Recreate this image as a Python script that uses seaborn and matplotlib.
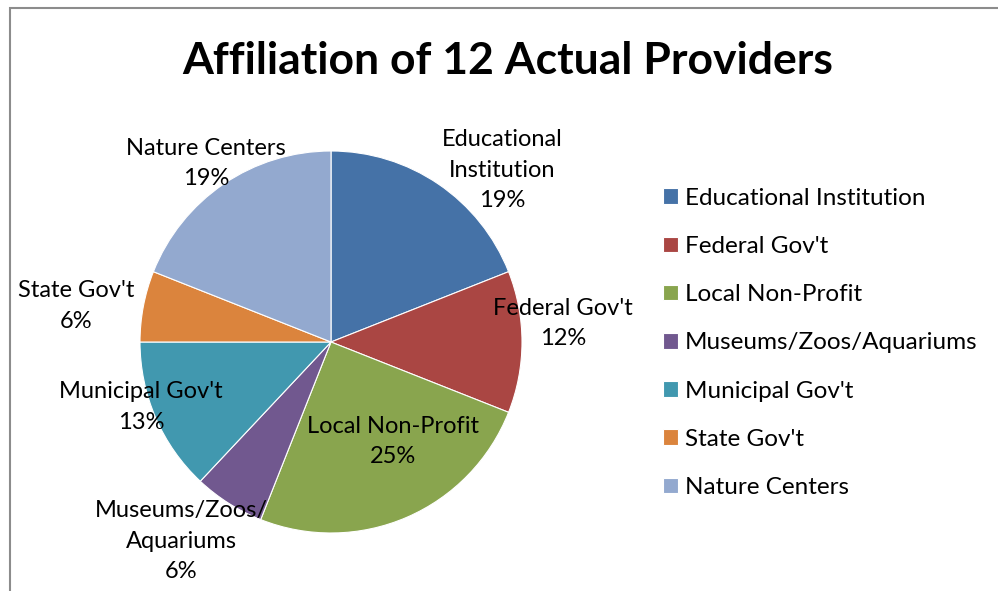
import matplotlib
matplotlib.use("Agg")
import matplotlib.pyplot as plt
import seaborn as sns
from matplotlib.patches import Rectangle

# data
categories = ['Educational Institution', "Federal Gov't", 'Local Non-Profit',
              'Museums/Zoos/Aquariums', "Municipal Gov't", "State Gov't", 'Nature Centers']
shares = [19, 12, 25, 6, 13, 6, 19]
slice_labels = ['Educational\nInstitution', "Federal Gov't", 'Local Non-Profit',
                'Museums/Zoos/\nAquariums', "Municipal Gov't", "State Gov't", 'Nature Centers']
title = 'Affiliation of 12 Actual Providers'

colors = sns.color_palette(['#4572A7', '#AA4643', '#89A54E', '#71588F',
                            '#4198AF', '#DB843D', '#93A9CF'])

sns.set_theme(style="white")
plt.rcParams['font.family'] = ['Lato', 'DejaVu Sans']
plt.rcParams['text.color'] = 'black'

W, H = 998, 591
fig = plt.figure(figsize=(W / 100, H / 100), dpi=100)

# chart frame (only left/top edges visible in the crop)
fig.add_artist(Rectangle((10 / W, -0.5), 2, 1.5 - 8 / H, transform=fig.transFigure,
                         fill=False, edgecolor='#8c8c8c', linewidth=1.5))

cx, cy, r = 331, 342, 191
ax = fig.add_axes([(cx - r) / W, (H - cy - r) / H, 2 * r / W, 2 * r / H])
wedges, _ = ax.pie(shares, colors=colors, startangle=90, counterclock=False,
                   radius=1, wedgeprops=dict(edgecolor='white', linewidth=0.8))
ax.set_xlim(-1, 1)
ax.set_ylim(-1, 1)
ax.set_aspect('equal')
ax.axis('off')

# label placement (pie-radius units), like Excel "best fit"
label_pos = [(0.895, 0.90), (1.215, 0.097), (0.327, -0.521), (-0.783, -1.042),
             (-0.995, -0.34), (-1.335, 0.188), (-0.654, 0.935)]
for lab, val, (x, y) in zip(slice_labels, shares, label_pos):
    ax.text(x, y, f'{lab}\n{val}%', ha='center', va='center', fontsize=17,
            linespacing=1.55, color='black', clip_on=False)

fig.text(508 / W, 1 - 61 / H, title, ha='center', va='center',
         fontsize=32, fontweight='bold', color='black')

fig.legend(wedges, categories, loc='upper left', bbox_to_anchor=(653 / W, 1 - 178 / H),
           frameon=False, fontsize=17.5, handlelength=0.62, handleheight=0.62,
           handletextpad=0.3, labelspacing=1.12, borderaxespad=0)

fig.savefig('out.png', dpi=100)
